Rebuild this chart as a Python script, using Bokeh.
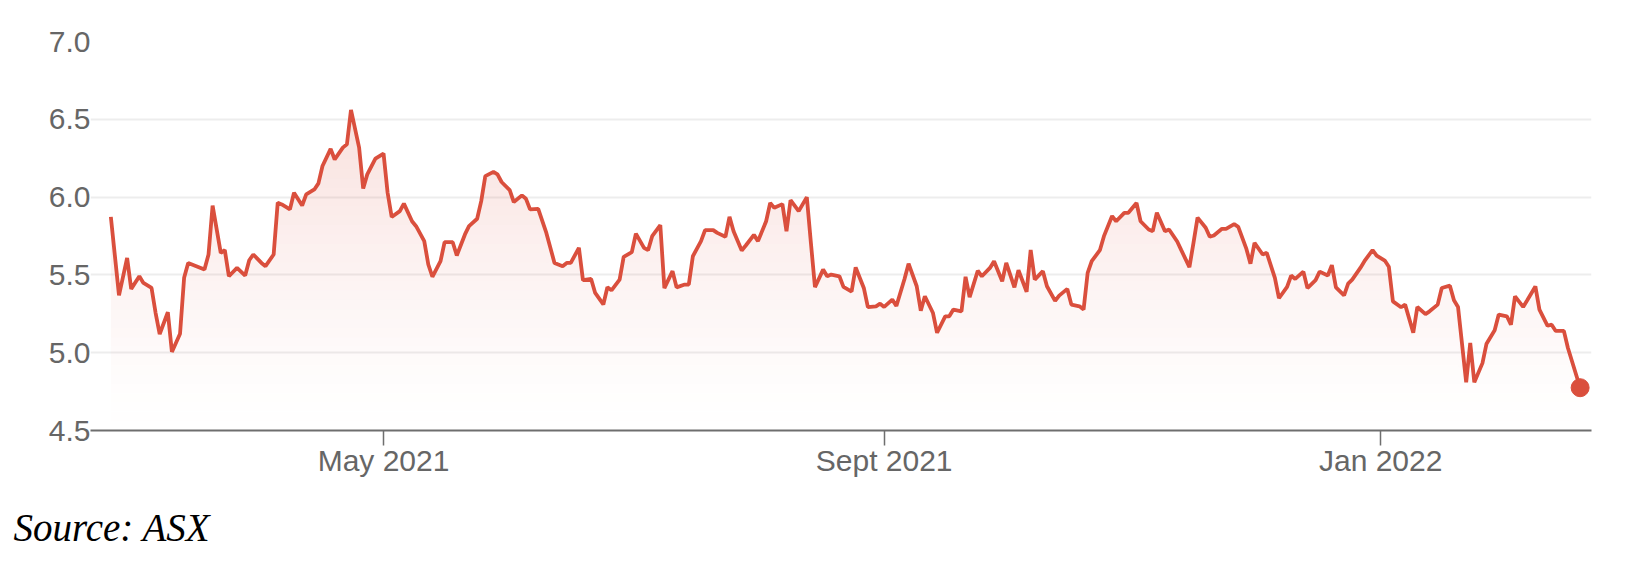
import numpy as np
import pandas as pd
from bokeh.plotting import figure
from bokeh.models import FixedTicker, Range1d, Title, NumeralTickFormatter, LinearAxis
from bokeh.embed import file_html
from bokeh.resources import INLINE

# ---- data ----
dates = [
    "2021-02-23", "2021-02-25", "2021-02-27", "2021-02-28",
    "2021-03-02", "2021-03-03", "2021-03-05", "2021-03-06", "2021-03-07", "2021-03-09", "2021-03-10",
    "2021-03-12", "2021-03-13", "2021-03-14", "2021-03-16", "2021-03-18", "2021-03-19", "2021-03-20",
    "2021-03-22", "2021-03-23", "2021-03-24", "2021-03-26", "2021-03-28", "2021-03-29", "2021-03-30",
    "2021-04-01", "2021-04-02", "2021-04-04", "2021-04-05", "2021-04-06", "2021-04-08", "2021-04-09",
    "2021-04-11", "2021-04-12", "2021-04-14", "2021-04-15", "2021-04-16", "2021-04-18", "2021-04-19",
    "2021-04-21", "2021-04-22", "2021-04-23", "2021-04-25", "2021-04-26", "2021-04-27", "2021-04-29",
    "2021-05-01", "2021-05-02", "2021-05-03", "2021-05-05", "2021-05-06", "2021-05-08", "2021-05-09",
    "2021-05-11", "2021-05-12", "2021-05-13", "2021-05-15", "2021-05-16", "2021-05-18", "2021-05-19",
    "2021-05-21", "2021-05-22", "2021-05-24", "2021-05-25", "2021-05-26", "2021-05-28", "2021-05-29",
    "2021-05-30",
    "2021-06-01", "2021-06-02", "2021-06-04", "2021-06-05", "2021-06-06", "2021-06-08", "2021-06-10",
    "2021-06-12", "2021-06-14", "2021-06-15", "2021-06-16", "2021-06-18", "2021-06-19", "2021-06-21",
    "2021-06-22", "2021-06-24", "2021-06-25", "2021-06-26", "2021-06-28", "2021-06-29",
    "2021-07-01", "2021-07-02", "2021-07-04", "2021-07-05", "2021-07-06", "2021-07-08", "2021-07-09",
    "2021-07-11", "2021-07-12", "2021-07-14", "2021-07-15", "2021-07-16", "2021-07-18", "2021-07-19",
    "2021-07-21", "2021-07-22", "2021-07-24", "2021-07-25", "2021-07-26", "2021-07-28", "2021-07-29",
    "2021-07-31",
    "2021-08-01", "2021-08-03", "2021-08-04", "2021-08-05", "2021-08-07", "2021-08-08", "2021-08-09",
    "2021-08-11", "2021-08-13", "2021-08-14", "2021-08-15", "2021-08-17", "2021-08-18", "2021-08-19",
    "2021-08-21", "2021-08-22", "2021-08-24", "2021-08-25", "2021-08-27", "2021-08-28", "2021-08-30",
    "2021-08-31",
    "2021-09-01", "2021-09-03", "2021-09-04", "2021-09-06", "2021-09-07", "2021-09-09", "2021-09-10",
    "2021-09-11", "2021-09-13", "2021-09-14", "2021-09-16", "2021-09-17", "2021-09-18", "2021-09-20",
    "2021-09-21", "2021-09-22", "2021-09-24", "2021-09-25", "2021-09-27", "2021-09-28", "2021-09-30",
    "2021-10-01", "2021-10-03", "2021-10-04", "2021-10-06", "2021-10-07", "2021-10-08", "2021-10-10",
    "2021-10-11", "2021-10-13", "2021-10-14", "2021-10-16", "2021-10-17", "2021-10-19", "2021-10-20",
    "2021-10-21", "2021-10-22", "2021-10-24", "2021-10-25", "2021-10-27", "2021-10-28", "2021-10-30",
    "2021-10-31",
    "2021-11-02", "2021-11-03", "2021-11-05", "2021-11-06", "2021-11-07", "2021-11-09", "2021-11-10",
    "2021-11-12", "2021-11-13", "2021-11-15", "2021-11-16", "2021-11-17", "2021-11-19", "2021-11-20",
    "2021-11-21", "2021-11-23", "2021-11-24", "2021-11-26", "2021-11-27", "2021-11-29", "2021-11-30",
    "2021-12-01", "2021-12-03", "2021-12-04", "2021-12-06", "2021-12-07", "2021-12-09", "2021-12-10",
    "2021-12-11", "2021-12-13", "2021-12-14", "2021-12-16", "2021-12-17", "2021-12-19", "2021-12-20",
    "2021-12-21", "2021-12-23", "2021-12-24", "2021-12-25", "2021-12-27", "2021-12-28", "2021-12-30",
    "2021-12-31",
    "2022-01-02", "2022-01-03", "2022-01-04", "2022-01-06", "2022-01-07", "2022-01-09", "2022-01-10",
    "2022-01-12", "2022-01-13", "2022-01-15", "2022-01-16", "2022-01-18", "2022-01-19", "2022-01-20",
    "2022-01-22", "2022-01-23", "2022-01-24", "2022-01-26", "2022-01-27", "2022-01-29", "2022-01-30",
    "2022-02-01", "2022-02-02", "2022-02-03", "2022-02-05", "2022-02-06", "2022-02-08", "2022-02-09",
    "2022-02-11", "2022-02-12", "2022-02-13", "2022-02-15", "2022-02-16", "2022-02-19",
]

prices = [
    5.873, 5.369, 5.609, 5.410,
    5.491, 5.448, 5.416, 5.255, 5.120, 5.260, 5.005,
    5.122, 5.481, 5.577, 5.556, 5.534, 5.631, 5.945,
    5.642, 5.659, 5.491, 5.545, 5.496, 5.594, 5.631,
    5.577, 5.556, 5.631, 5.964, 5.953, 5.921, 6.028,
    5.946, 6.017, 6.049, 6.088, 6.200, 6.310, 6.242,
    6.318, 6.339, 6.560, 6.318, 6.055, 6.146, 6.247,
    6.280, 6.028, 5.872, 5.910, 5.958, 5.845, 5.813,
    5.717, 5.567, 5.488, 5.588, 5.710, 5.710, 5.625,
    5.760, 5.813, 5.861, 5.974, 6.135, 6.162, 6.146,
    6.097,
    6.045, 5.968, 6.011, 5.989, 5.921, 5.925, 5.770,
    5.577, 5.556, 5.577, 5.577, 5.674, 5.466, 5.474,
    5.384, 5.310, 5.421, 5.401, 5.470, 5.616,
    5.646, 5.765, 5.674, 5.659, 5.749, 5.820, 5.415,
    5.524, 5.420, 5.438, 5.438, 5.620, 5.717, 5.788,
    5.788, 5.770, 5.745, 5.873, 5.781, 5.657, 5.689,
    5.757,
    5.717, 5.845, 5.963, 5.931, 5.955, 5.780, 5.980,
    5.910, 6.000, 5.706, 5.421, 5.534, 5.491, 5.502,
    5.491, 5.423, 5.393, 5.548, 5.416, 5.293, 5.298,
    5.315,
    5.294, 5.341, 5.300, 5.474, 5.572, 5.427, 5.270,
    5.363, 5.255, 5.128, 5.234, 5.234, 5.277, 5.266,
    5.488, 5.357, 5.527, 5.491, 5.545, 5.588, 5.459,
    5.577, 5.420, 5.530, 5.392, 5.660, 5.470, 5.524,
    5.427, 5.333, 5.367, 5.410, 5.309, 5.298, 5.278,
    5.513, 5.588, 5.659, 5.749, 5.878, 5.845, 5.899,
    5.899,
    5.962, 5.845, 5.792, 5.781, 5.900, 5.781, 5.792,
    5.715, 5.659, 5.550, 5.706, 5.868, 5.803, 5.745,
    5.753, 5.796, 5.796, 5.826, 5.809, 5.667, 5.572,
    5.706, 5.631, 5.642, 5.481, 5.350, 5.423, 5.496,
    5.474, 5.521, 5.415, 5.466, 5.521, 5.496, 5.563,
    5.420, 5.368, 5.444, 5.470, 5.545, 5.588, 5.660,
    5.624,
    5.592, 5.552, 5.330, 5.292, 5.309, 5.128, 5.294,
    5.248, 5.266, 5.309, 5.416, 5.431, 5.337, 5.294,
    4.810, 5.062, 4.810, 4.933, 5.058, 5.144, 5.245,
    5.234, 5.180, 5.362, 5.294, 5.337, 5.426, 5.277,
    5.173, 5.180, 5.140, 5.140, 5.030, 4.775,
]

y_ticks = [4.5, 5.0, 5.5, 6.0, 6.5, 7.0]
x_tick_dates = ["2021-05-01", "2021-09-01", "2022-01-01"]
x_tick_labels = ["May 2021", "Sept 2021", "Jan 2022"]
x_start, x_end = "2021-02-18", "2022-02-21 19:00"
y_start, y_end = 4.5, 7.0
source_text = "Source: ASX"

RED = "#da4f3d"
GREY = "#666666"

dt = pd.to_datetime(dates)
pr = np.array(prices)

p = figure(
    width=1636, height=564,
    x_axis_type="datetime",
    x_range=Range1d(pd.Timestamp(x_start), pd.Timestamp(x_end)),
    y_range=Range1d(y_start, y_end),
    output_backend="svg", toolbar_location=None,
    min_border_left=90, min_border_right=45, min_border_top=41, min_border_bottom=134,
    background_fill_color="white", border_fill_color="white",
)
p.outline_line_color = None

# gradient-like fill under the line (horizontal bands of increasing opacity)
levels = np.linspace(4.5, 6.6, 36)
for a, b in zip(levels[:-1], levels[1:]):
    mid = 0.5 * (a + b)
    alpha = 0.18 * ((mid - 4.5) / (6.6 - 4.5)) ** 1.3
    p.varea(x=dt, y1=np.minimum(pr, a), y2=np.minimum(pr, b),
            fill_color=RED, fill_alpha=alpha)

p.line(dt, pr, line_color=RED, line_width=3.8)
p.scatter([dt[-1]], [pr[-1]], size=18, fill_color=RED, line_color=RED)

# y axis
p.yaxis.ticker = FixedTicker(ticks=y_ticks)
p.yaxis.formatter = NumeralTickFormatter(format="0.0")
p.yaxis.axis_line_color = None
p.yaxis.major_tick_line_color = None
p.yaxis.minor_tick_line_color = None
p.yaxis.major_tick_out = 0
p.yaxis.major_tick_in = 0
p.yaxis.major_label_standoff = 0
p.yaxis.major_label_text_font = "Liberation Sans"
p.yaxis.major_label_text_font_size = "30px"
p.yaxis.major_label_text_color = GREY

# x axis
tick_ms = [float(pd.Timestamp(d).value // 10**6) for d in x_tick_dates]
p.xaxis.ticker = FixedTicker(ticks=tick_ms)
p.xaxis.major_label_overrides = {t: lab for t, lab in zip(tick_ms, x_tick_labels)}
p.xaxis.axis_line_color = "#6e6e6e"
p.xaxis.axis_line_width = 2.2
p.xaxis.major_tick_line_color = "#6e6e6e"
p.xaxis.major_tick_line_width = 1.5
p.xaxis.major_tick_out = 15
p.xaxis.major_tick_in = 0
p.xaxis.minor_tick_line_color = None
p.xaxis.major_label_standoff = -2
p.xaxis.major_label_text_font = "Liberation Sans"
p.xaxis.major_label_text_font_size = "30px"
p.xaxis.major_label_text_color = GREY

# invisible spacer between the date axis and the source note
spacer = LinearAxis(ticker=FixedTicker(ticks=[tick_ms[1]]), major_tick_out=23, major_tick_in=0,
                    major_label_standoff=0, major_label_text_font_size="1px",
                    major_label_text_color=None, axis_line_color=None,
                    major_tick_line_color=None, minor_tick_line_color=None)
p.add_layout(spacer, "below")

# grid
p.xgrid.visible = False
p.ygrid.grid_line_color = "#ededed"
p.ygrid.grid_line_width = 2

# source note
p.add_layout(Title(text=source_text, align="left", offset=-77, standoff=2,
                   text_font="Liberation Serif", text_font_style="italic",
                   text_font_size="39px", text_color="black"), "below")

open("out.html", "w").write(file_html(p, INLINE))
